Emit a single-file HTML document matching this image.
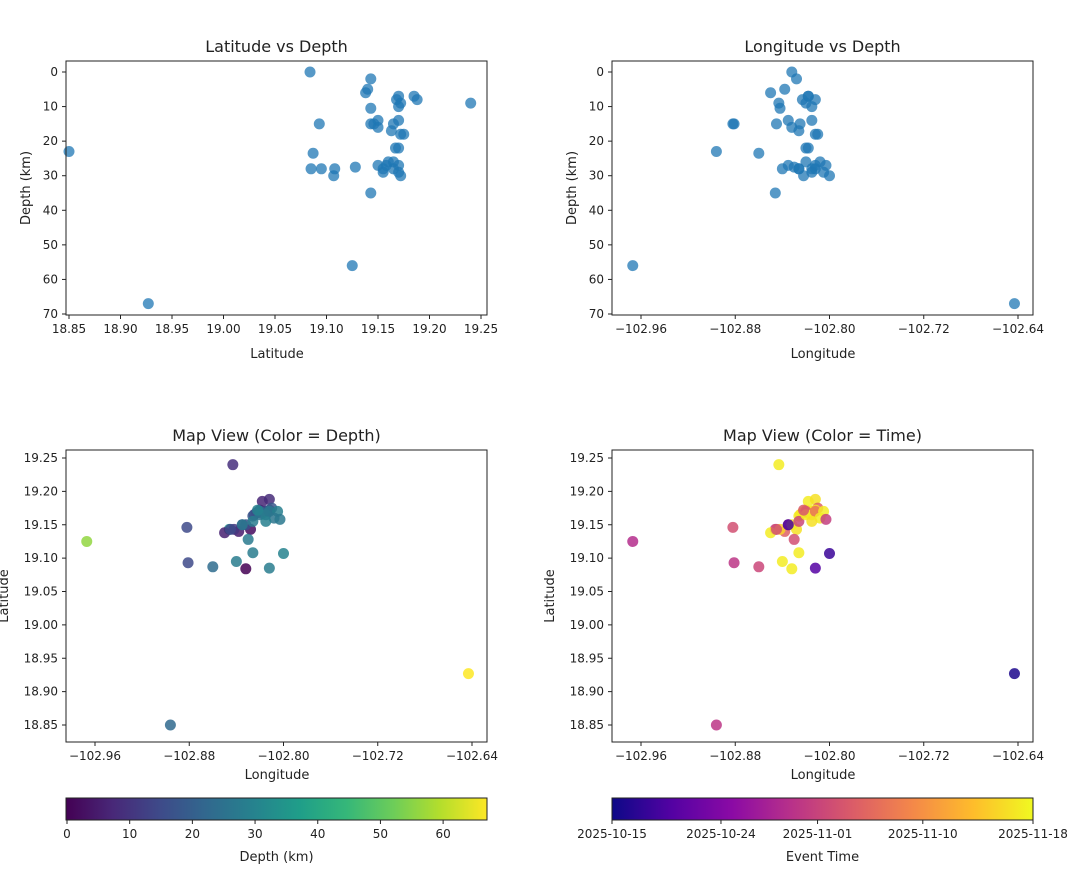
<!DOCTYPE html>
<html><head><meta charset="utf-8">
<style>
body{margin:0;background:#fff;width:1079px;height:867px;overflow:hidden;font-family:"Liberation Sans","DejaVu Sans",sans-serif}
svg text{font-family:"DejaVu Sans","Liberation Sans",sans-serif;fill:#222}
</style></head>
<body>
<svg id="fig" width="1079" height="867" xmlns="http://www.w3.org/2000/svg"></svg>
<script>
// event data
const lats = [18.850,18.927,19.125,19.084,19.240,19.143,19.146,19.095,19.093,19.107,19.085,19.087,
 19.143,19.140,19.138,19.143,19.170,19.168,19.172,19.170,19.185,19.188,19.143,19.150,19.150,19.165,19.163,19.170,19.175,19.172,19.167,19.170,19.150,19.155,19.165,19.165,19.170,19.170,19.172,19.128,19.108,19.160,19.158,19.155];
const lons = [-102.896,-102.643,-102.967,-102.832,-102.843,-102.846,-102.882,-102.840,-102.881,-102.800,-102.812,-102.860,
 -102.828,-102.838,-102.850,-102.842,-102.818,-102.823,-102.820,-102.815,-102.818,-102.812,-102.845,-102.835,-102.832,-102.825,-102.826,-102.815,-102.810,-102.812,-102.818,-102.820,-102.835,-102.826,-102.820,-102.815,-102.812,-102.805,-102.822,-102.830,-102.826,-102.808,-102.803,-102.815];
const depths = [23,67,56,0,9,35,15,28,15,30,28,23.5,
 2,5,6,10.5,7,8,9,10,7,8,15,14,16,15,17,14,18,18,22,22,27,28,26,28,27,29,30,27.5,28,26,27,29];
const days = [15,1,14,33,33,16,18,33,15,3,5,17,
 32,20,33,31,33,32,31,33,33,32,18,17,33,31,33,33,20,32,31,19,4,17,33,33,22,33,19,18,33,33,16,32];
const latTicks=[18.85,18.90,18.95,19.00,19.05,19.10,19.15,19.20,19.25];
const lonTicks=[-102.96,-102.88,-102.80,-102.72,-102.64];
const depthTicks=[0,10,20,30,40,50,60,70];
const cbDepthTicks=[0,10,20,30,40,50,60];
const cbTimeLabels=["2025-10-15","2025-10-24","2025-11-01","2025-11-10","2025-11-18"];
const cbTimeDays=[0,8.8,16.6,25.1,34];

const NS="http://www.w3.org/2000/svg";
const svg=document.getElementById('fig');
function el(t,a,p){const e=document.createElementNS(NS,t);for(const k in a)e.setAttribute(k,a[k]);(p||svg).appendChild(e);return e;}
function lin(d0,d1,r0,r1){return v=>r0+(v-d0)/(d1-d0)*(r1-r0);}
function interp(stops,t){t=Math.max(0,Math.min(1,t));const n=stops.length-1;const i=Math.min(n-1,Math.floor(t*n));const f=t*n-i;const a=stops[i],b=stops[i+1];return 'rgb('+[0,1,2].map(k=>Math.round(a[k]+(b[k]-a[k])*f)).join(',')+')';}
const viridis=[[68,1,84],[72,40,120],[62,74,137],[49,104,142],[38,130,142],[31,158,137],[53,183,121],[109,205,89],[180,222,44],[253,231,37]];
const plasma=[[13,8,135],[84,2,163],[139,10,165],[185,50,137],[219,92,104],[244,136,73],[254,188,43],[240,249,33]];
const depthMax=67, dayMax=34;

function panel(name,x0,y0,x1,y1,title){
  const g=el('g',{});
  el('rect',{x:x0,y:y0,width:x1-x0,height:y1-y0,fill:'#fff'},g);
  const t=el('text',{x:(x0+x1)/2,y:y0-9,'text-anchor':'middle','font-size':16},g);t.textContent=title;
  
  return g;
}
function frame(g,x0,y0,x1,y1){el('rect',{x:x0,y:y0,width:x1-x0,height:y1-y0,fill:'none',stroke:'#222','stroke-width':1},g);}
function xticks(g,ticks,sx,y1,fmt){ticks.forEach(v=>{const x=sx(v);el('line',{x1:x,x2:x,y1:y1,y2:y1+4,stroke:'#222'},g);const t=el('text',{x:x,y:y1+18,'text-anchor':'middle','font-size':12},g);t.textContent=fmt(v);});}
function yticks(g,ticks,sy,x0,fmt){ticks.forEach(v=>{const y=sy(v);el('line',{x1:x0-4,x2:x0,y1:y,y2:y,stroke:'#222'},g);const t=el('text',{x:x0-8,y:y+4,'text-anchor':'end','font-size':12},g);t.textContent=fmt(v);});}
function label(g,x,y,txt,rot,name){const t=el('text',{x:x,y:y,'text-anchor':'middle','font-size':13,transform:rot?`rotate(-90 ${x} ${y})`:''},g);t.textContent=txt;}
const lonFmt=v=>'\u2212'+Math.abs(v).toFixed(2);
const numFmt=v=>v.toFixed(2);
const intFmt=v=>String(v);

// Panel 1
{const g=panel('latitude-vs-depth-chart',66,61,487,315,'Latitude vs Depth');
 const sx=lin(18.85,19.25,69,481), sy=lin(0,70,72,314);
 lats.forEach((v,i)=>{const c=el('circle',{cx:sx(v),cy:sy(depths[i]),r:5.5,fill:'#1f77b4','fill-opacity':0.75},g);});
 frame(g,66,61,487,315);xticks(g,latTicks,sx,315,numFmt);yticks(g,depthTicks,sy,66,intFmt);
 label(g,277,358,'Latitude',false,'x-axis-title');label(g,30,188,'Depth (km)',true,'y-axis-title');}
// Panel 2
{const g=panel('longitude-vs-depth-chart',612,61,1033,315,'Longitude vs Depth');
 const sx=lin(-102.96,-102.64,641,1018), sy=lin(0,70,72,314);
 lons.forEach((v,i)=>{const c=el('circle',{cx:sx(v),cy:sy(depths[i]),r:5.5,fill:'#1f77b4','fill-opacity':0.75},g);});
 frame(g,612,61,1033,315);xticks(g,lonTicks,sx,315,lonFmt);yticks(g,depthTicks,sy,612,intFmt);
 label(g,823,358,'Longitude',false,'x-axis-title');label(g,576,188,'Depth (km)',true,'y-axis-title');}
// Panel 3
{const g=panel('map-depth-chart',66,450,487,742,'Map View (Color = Depth)');
 const sx=lin(-102.96,-102.64,95,472), sy=lin(18.85,19.25,725,458);
 lons.forEach((v,i)=>{const c=el('circle',{cx:sx(v),cy:sy(lats[i]),r:5.5,fill:interp(viridis,depths[i]/depthMax),'fill-opacity':0.85},g);});
 frame(g,66,450,487,742);xticks(g,lonTicks,sx,742,lonFmt);yticks(g,latTicks,sy,66,numFmt);
 label(g,277,779,'Longitude',false,'x-axis-title');label(g,8,596,'Latitude',true,'y-axis-title');}
// Panel 4
{const g=panel('map-time-chart',612,450,1033,742,'Map View (Color = Time)');
 const sx=lin(-102.96,-102.64,641,1018), sy=lin(18.85,19.25,725,458);
 lons.forEach((v,i)=>{const c=el('circle',{cx:sx(v),cy:sy(lats[i]),r:5.5,fill:interp(plasma,days[i]/dayMax),'fill-opacity':0.85},g);});
 frame(g,612,450,1033,742);xticks(g,lonTicks,sx,742,lonFmt);yticks(g,latTicks,sy,612,numFmt);
 label(g,823,779,'Longitude',false,'x-axis-title');label(g,554,596,'Latitude',true,'y-axis-title');}
// Colorbars
function colorbar(name,x0,x1,stops,ticks,sx,labels,title){
 const g=el('g',{});
 const id='grad'+name;const d=el('defs',{},g);const lg=el('linearGradient',{id:id,x1:0,x2:1,y1:0,y2:0},d);
 stops.forEach((s,i)=>el('stop',{offset:i/(stops.length-1),'stop-color':`rgb(${s.join(',')})`},lg));
 el('rect',{x:x0,y:798,width:x1-x0,height:22,fill:`url(#${id})`,stroke:'#222'},g);
 ticks.forEach((v,i)=>{const x=sx(v);el('line',{x1:x,x2:x,y1:820,y2:824,stroke:'#222'},g);const t=el('text',{x:x,y:838,'text-anchor':'middle','font-size':12},g);t.textContent=labels[i];});
 label(g,(x0+x1)/2,861,title,false,'colorbar-title');}
colorbar('depth-colorbar',66,487,viridis,cbDepthTicks,lin(0,depthMax,67,487),cbDepthTicks.map(String),'Depth (km)');
colorbar('time-colorbar',612,1033,plasma,cbTimeDays,lin(0,dayMax,612,1033),cbTimeLabels,'Event Time');
</script>
</body></html>
